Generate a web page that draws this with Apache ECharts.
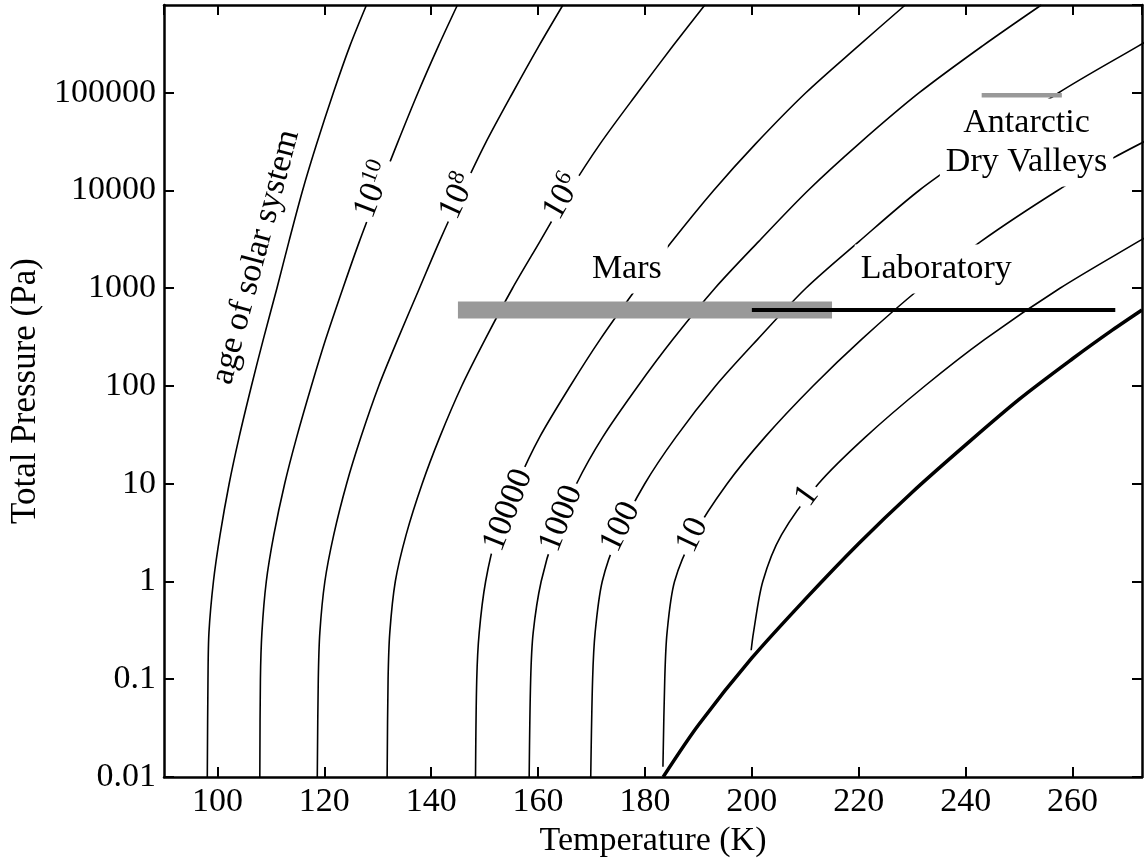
<!DOCTYPE html>
<html>
<head>
<meta charset="utf-8">
<title>Ice sublimation time vs temperature and total pressure</title>
<script src="https://cdn.jsdelivr.net/npm/echarts@6/dist/echarts.min.js"></script>
<style>
  html, body { margin: 0; padding: 0; background: #ffffff; }
  #chart { width: 1145px; height: 858px; }
</style>
</head>
<body>
<div id="chart"></div>
<script>
// Contours of sublimation time: [temperature (K), total pressure (Pa)]
const ageOfSolarSystem = [[98.10,0.01],[98.23,0.1],[98.41,0.3],[99.25,1],[100.49,3],[102.19,10],[104.06,30],[106.36,100],[108.58,300],[111.13,1000],[113.37,3000],[115.93,1e4],[118.57,3e4],[121.69,1e5],[124.77,3e5],[127.89,7.9e5]];
const time1e10 = [[107.93,0.01],[108.04,0.1],[108.32,0.3],[109.14,1],[110.55,3],[112.58,10],[114.83,30],[117.58,100],[120.25,300],[123.48,1000],[126.55,3000],[130.19,1e4],[133.62,3e4],[137.52,1e5],[141.34,3e5],[144.91,7.9e5]];
const time1e8 = [[118.68,0.01],[118.87,0.1],[119.16,0.3],[120.10,1],[121.76,3],[124.17,10],[126.85,30],[130.18,100],[133.73,300],[137.80,1000],[141.52,3000],[145.88,1e4],[150.09,3e4],[155.25,1e5],[160.13,3e5],[164.65,7.9e5]];
const time1e6 = [[131.75,0.01],[131.93,0.1],[132.25,0.3],[133.28,1],[135.30,3],[138.31,10],[141.60,30],[145.71,100],[150.09,300],[155.21,1000],[160.33,3000],[165.92,1e4],[171.60,3e4],[178.62,1e5],[185.21,3e5],[191.20,7.9e5]];
const time1e4 = [[148.29,0.01],[148.52,0.1],[148.98,0.3],[150.18,1],[152.26,3],[156.09,10],[160.29,30],[166.01,100],[171.62,300],[178.43,1000],[185.03,3000],[192.84,1e4],[200.69,3e4],[210.10,1e5],[219.89,3e5],[228.70,7.9e5]];
const time1e3 = [[158.33,0.01],[158.61,0.1],[159.08,0.3],[160.57,1],[163.12,3],[167.19,10],[172.09,30],[178.69,100],[185.23,300],[193.09,1000],[201.25,3000],[210.51,1e4],[220.02,3e4],[231.32,1e5],[243.11,3e5],[254.16,7.9e5]];
const time1e2 = [[169.85,0.01],[170.20,0.1],[170.67,0.3],[172.00,1],[175.01,3],[179.96,10],[185.78,30],[193.20,100],[201.07,300],[210.10,1000],[220.02,3000],[231.28,1e4],[243.56,3e4],[257.41,1e5],[272.28,3e5],[273.5,3.28e5]];
const time1e1 = [[183.36,0.0127],[183.70,0.1],[184.13,0.3],[185.53,1],[189.18,3],[195.37,10],[202.45,30],[211.44,100],[220.53,300],[231.50,1000],[242.81,3000],[257.21,1e4],[267.47,2.13e4],[273.5,3.18e4]];
const time1e0 = [[199.87,0.198],[200.30,0.3],[202.04,1],[205.54,3],[212.45,10],[221.24,30],[232.36,100],[243.58,300],[257.64,1000],[272.28,3000],[273.5,3270]];

// Ice saturation vapour pressure (thick curve)
const saturation = [[183.4,0.01],[190,0.034],[200,0.165],[210,0.66],[220,2.45],[230,8.2],[240,25],[250,73],[260,190],[267.5,375],[273,600]];

// Environments: temperature spans at a given pressure
const marsRange = [[145, 600], [215, 600]];
const laboratoryRange = [[200, 600], [268, 600]];
const dryValleysRange = [[243, 94000], [258, 94000]];

// Axis tick labels
const yTickLabels = ['0.01', '0.1', '1', '10', '100', '1000', '10000', '100000'];

const FONT = '"Liberation Serif", "Times New Roman", Times, serif';
const BLACK = '#000000';
const GREY = '#999999';

const contourSets = [ageOfSolarSystem, time1e10, time1e8, time1e6, time1e4, time1e3, time1e2, time1e1, time1e0];

function contourSeries(data) {
  return {
    type: 'line', data: data, xAxisIndex: 0, yAxisIndex: 0,
    symbol: 'none', showSymbol: false, smooth: 0.3, silent: true, z: 2,
    lineStyle: { color: BLACK, width: 1.6 }
  };
}

function rangeSeries(data, color, width, z) {
  return {
    type: 'line', data: data, symbol: 'none', showSymbol: false, silent: true, z: z,
    lineStyle: { color: color, width: width, cap: 'butt' }
  };
}

const baseLabel = {
  show: true, position: 'inside', fontFamily: FONT, fontSize: 34, color: BLACK,
  align: 'center', verticalAlign: 'middle', lineHeight: 40, opacity: 1,
  textBorderWidth: 0, textShadowBlur: 0
};

// Text placed at data positions; white boxes hide the contour lines behind them
function note(pos, text, rotate, boxed, rich) {
  const label = Object.assign({}, baseLabel, { formatter: text, rotate: rotate });
  if (boxed) { label.backgroundColor = '#ffffff'; label.padding = [0, 4]; }
  if (rich) label.rich = rich;
  return { value: pos, label: label };
}

const supRich = {
  b: { fontFamily: FONT, fontSize: 34, lineHeight: 40, color: BLACK },
  s: { fontFamily: FONT, fontSize: 23, lineHeight: 24, verticalAlign: 'top', color: BLACK }
};

const notes = [
  note([107.2, 2085], 'age of solar system', 75, false),
  note([129.3, 10100], '{b|10}{s|10}', 68.7, true, supRich),
  note([145.0, 8670], '{b|10}{s|8}', 65, true, supRich),
  note([164.6, 8570], '{b|10}{s|6}', 60, true, supRich),
  note([154.4, 5.36], '10000', 68.5, true),
  note([164.35, 4.41], '1000', 68.6, true),
  note([175.4, 3.62], '100', 64, true),
  note([188.9, 2.98], '10', 64.5, true),
  note([210.3, 7.5], '1', 54, true)
];

const boxedNote = (pos, text) => ({
  value: pos,
  label: Object.assign({}, baseLabel, {
    formatter: text, lineHeight: 39, backgroundColor: '#ffffff', padding: [5, 6]
  })
});
notes.push(boxedNote([176.6, 1571], 'Mars'));
notes.push(boxedNote([234.5, 1571], 'Laboratory'));
notes.push(boxedNote([251.4, 30970], 'Antarctic\nDry Valleys'));

const axisLineStyle = { color: BLACK, width: 2.5 };
const tickStyle = { inside: true, length: 10, lineStyle: { color: BLACK, width: 2 } };

const option = {
  animation: false,
  backgroundColor: '#ffffff',
  grid: { left: 164, right: 3, top: 5, bottom: 81, containLabel: false, outerBoundsMode: 'none' },
  xAxis: [
    {
      type: 'value', min: 90, max: 273, splitNumber: 9, position: 'bottom',
      axisLine: { show: true, onZero: false, lineStyle: axisLineStyle },
      axisTick: tickStyle,
      axisLabel: { fontFamily: FONT, fontSize: 34, color: BLACK, margin: 8, showMinLabel: false, showMaxLabel: false },
      splitLine: { show: false },
      name: 'Temperature (K)', nameLocation: 'middle', nameGap: 40,
      nameTextStyle: { fontFamily: FONT, fontSize: 34, color: BLACK }
    },
    {
      type: 'value', min: 90, max: 273, splitNumber: 9, position: 'top',
      axisLine: { show: true, onZero: false, lineStyle: axisLineStyle },
      axisTick: tickStyle, axisLabel: { show: false }, splitLine: { show: false }
    }
  ],
  yAxis: [
    {
      type: 'log', logBase: 10, min: 0.01, max: 790000, position: 'left',
      axisLine: { show: true, onZero: false, lineStyle: axisLineStyle },
      axisTick: tickStyle,
      axisLabel: {
        fontFamily: FONT, fontSize: 34, color: BLACK, margin: 8, showMaxLabel: false,
        formatter: v => yTickLabels[Math.round(Math.log10(v)) + 2] || ''
      },
      splitLine: { show: false }, minorTick: { show: false },
      name: 'Total Pressure (Pa)', nameLocation: 'middle', nameGap: 120, nameRotate: 90,
      nameTextStyle: { fontFamily: FONT, fontSize: 35, color: BLACK }
    },
    {
      type: 'log', logBase: 10, min: 0.01, max: 790000, position: 'right',
      axisLine: { show: true, onZero: false, lineStyle: axisLineStyle },
      axisTick: tickStyle, axisLabel: { show: false }, splitLine: { show: false }, minorTick: { show: false }
    }
  ],
  series: [
    ...contourSets.map(contourSeries),
    {
      type: 'line', data: saturation, symbol: 'none', showSymbol: false, smooth: 0.3,
      silent: true, z: 2, lineStyle: { color: BLACK, width: 3.5 }
    },
    rangeSeries(marsRange, GREY, 17, 3),
    rangeSeries(dryValleysRange, GREY, 4.5, 3),
    rangeSeries(laboratoryRange, BLACK, 4, 4),
    {
      type: 'scatter', data: notes, symbolSize: 1, silent: true, z: 6,
      itemStyle: { color: 'rgba(0,0,0,0)', opacity: 1 },
      emphasis: { disabled: true }
    }
  ]
};

const chart = echarts.init(document.getElementById('chart'), null, { renderer: 'canvas' });
chart.setOption(option);
</script>
</body>
</html>
